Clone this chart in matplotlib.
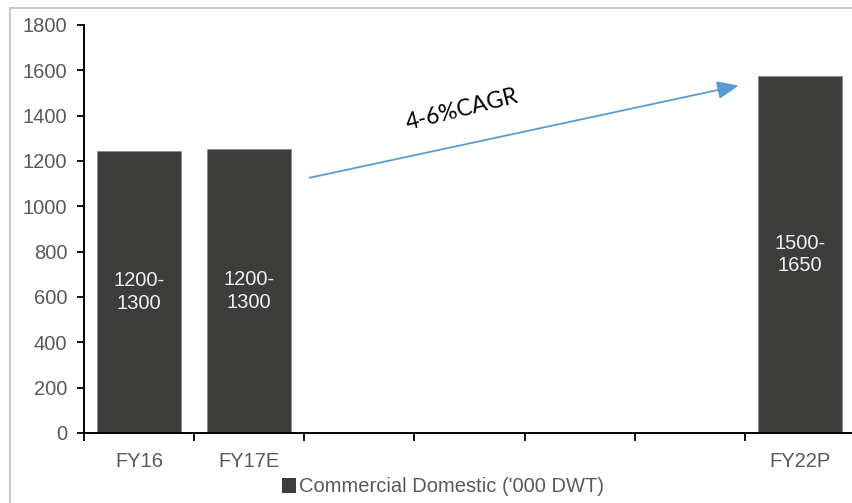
import numpy as np
import matplotlib
matplotlib.use("Agg")
import matplotlib.pyplot as plt
from matplotlib.patches import Rectangle

# Fiscal years on the axis; the in-between years carry no label or bar
categories = ["FY16", "FY17E", "", "", "", "", "FY22P"]
values = [1245, 1255, None, None, None, None, 1575]
range_labels = ["1200-\n1300", "1200-\n1300", None, None, None, None, "1500-\n1650"]
series_name = "Commercial Domestic ('000 DWT)"
growth_label = "4-6%CAGR"
y_ticks = [0, 200, 400, 600, 800, 1000, 1200, 1400, 1600, 1800]

bar_color = "#3d3d3c"
text_gray = "#595959"
arrow_color = "#5b9bd5"
fs = 14.5

plt.rcParams["font.family"] = ["Liberation Sans", "DejaVu Sans"]

fig = plt.figure(figsize=(8.53, 5.03), dpi=100)
W, H = 853, 503
ax = fig.add_axes([84 / W, 70 / H, (855 - 84) / W, (433 - 25) / H])

# outer frame of the chart area
fig.patches.append(Rectangle((10 / W, -0.05), 1.1, 1 - 8 / H + 0.05,
                             transform=fig.transFigure, fill=False,
                             edgecolor="#bfbfbf", linewidth=1.2, zorder=0))

idx = [i for i, v in enumerate(values) if v is not None]
heights = [values[i] for i in idx]
bars = ax.bar(idx, heights, width=0.765, color=bar_color,
              edgecolor="#8a8a8a", linewidth=0.6, label=series_name, zorder=2)

for i, b in zip(idx, bars):
    ax.text(i, b.get_height() / 2, range_labels[i], ha="center", va="center",
            color="#f0f0f0", fontsize=fs, linespacing=1.25, zorder=3)

ax.set_xlim(-0.5, 6.5)
ax.set_ylim(0, 1800)
ax.set_yticks(y_ticks)
ax.set_yticklabels([str(t) for t in y_ticks], fontsize=fs, color=text_gray)

ax.set_xticks(range(len(categories)))
ax.set_xticklabels(categories, fontsize=fs, color=text_gray)
ax.tick_params(axis="x", length=0, pad=14)
ax.set_xticks(np.arange(-0.5, 7.0, 1.0), minor=True)
ax.tick_params(axis="x", which="minor", length=6, width=1.3, color="black")
ax.tick_params(axis="y", length=5, width=1.3, color="black", pad=7)

for side in ("top", "right"):
    ax.spines[side].set_visible(False)
for side in ("left", "bottom"):
    ax.spines[side].set_linewidth(1.4)
    ax.spines[side].set_color("black")

# growth arrow from FY17E towards FY22P
ax.annotate("", xy=(5.445, 1533), xytext=(1.548, 1126), xycoords="data",
            arrowprops=dict(arrowstyle="-|>,head_length=1.2,head_width=0.5",
                            mutation_scale=11, color=arrow_color, lw=1.3,
                            shrinkA=0, shrinkB=0))
ax.text(2.93, 1425, growth_label, rotation=14, ha="center", va="center",
        fontsize=16.5, family=["Lato", "DejaVu Sans"], color="black")

leg = fig.legend(handles=[bars], labels=[series_name], loc="center",
                 bbox_to_anchor=(443 / W, 1 - 487 / H), frameon=False,
                 fontsize=fs, handlelength=0.7, handleheight=0.7,
                 handletextpad=0.15, labelcolor=text_gray)
for h in leg.legend_handles:
    h.set_edgecolor("none")

fig.savefig("out.png", dpi=100)
